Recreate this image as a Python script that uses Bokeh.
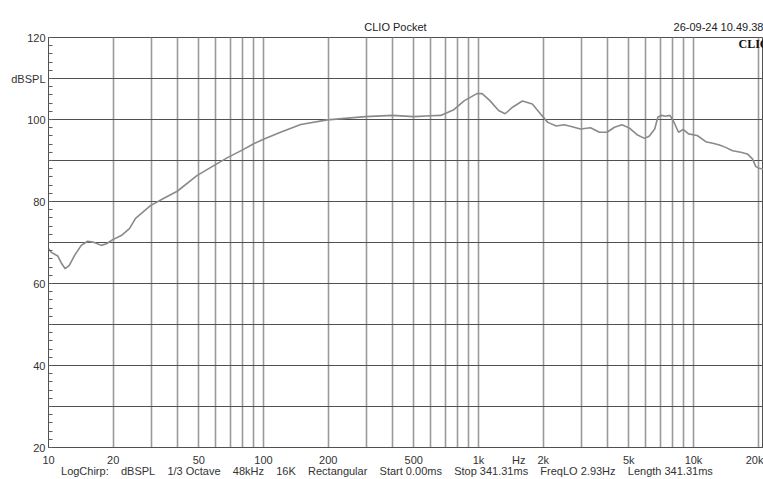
from bokeh.plotting import figure
from bokeh.models import Range1d, FixedTicker, Label, LogAxis, AllLabels
from bokeh.embed import file_html
from bokeh.resources import INLINE

# ---- data ----
freq_hz = [10, 10.3, 11.05, 11.53, 11.96, 12.5, 13.2, 14.2, 15.2, 16.1, 17.6, 18.6, 19.9,
           21.8, 23.8, 25.4, 29.8, 34.4, 39.7, 49, 59, 68, 80, 90, 100, 120, 149, 198,
           298, 397, 500, 600, 667, 768, 860, 983, 1040, 1130, 1240, 1330, 1440, 1600,
           1780, 1940, 2100, 2300, 2500, 2700, 2980, 3320, 3650, 3960, 4290, 4650, 5040,
           5460, 5920, 6220, 6600, 6830, 7100, 7400, 7770, 8100, 8520, 8950, 9480, 10400,
           11500, 12300, 13200, 14100, 15200, 16600, 17800, 18800, 19500, 20200, 21200]
spl_db = [68.5, 67.6, 66.7, 64.8, 63.6, 64.4, 66.8, 69.3, 70.3, 70.1, 69.3, 69.7, 70.7,
          71.7, 73.4, 75.9, 79.0, 80.8, 82.5, 86.3, 88.8, 90.7, 92.6, 94.1, 95.2, 96.9, 98.8, 99.9,
          100.7, 101.0, 100.7, 100.9, 101.0, 102.4, 104.6, 106.3, 106.3, 104.6, 102.2, 101.4, 103.0, 104.5,
          103.8, 101.4, 99.3, 98.4, 98.7, 98.3, 97.7, 98.0, 96.9, 96.9, 98.1, 98.7, 97.9,
          96.3, 95.4, 95.9, 97.7, 100.6, 101.0, 100.8, 101.0, 99.4, 96.9, 97.6, 96.5, 96.1,
          94.5, 94.2, 93.8, 93.2, 92.4, 92.0, 91.6, 90.4, 88.5, 88.1, 87.9]

x_tick_values = [10, 20, 50, 100, 200, 500, 1000, 1540, 2000, 5000, 10000, 20000]
x_tick_labels = ["10", "20", "50", "100", "200", "500", "1k", "Hz", "2k", "5k", "10k", "20k"]
x_grid_values = [20, 30, 40, 50, 60, 70, 80, 90, 100,
                 200, 300, 400, 500, 600, 700, 800, 900, 1000,
                 2000, 3000, 4000, 5000, 6000, 7000, 8000, 9000, 10000, 20000]
y_tick_values = [20, 40, 60, 80, 100, 110, 120]
y_tick_labels = ["20", "40", "60", "80", "100", "dBSPL", "120"]
y_grid_values = [30, 40, 50, 60, 70, 80, 90, 100, 110, 120]
y_minor_values = list(range(20, 121, 2))

title_text = "CLIO Pocket"
date_text = "26-09-24 10.49.38"
brand_text = "CLIO"
sp = "\u00a0\u00a0\u00a0\u00a0"
footer_text = sp.join(["LogChirp:", "dBSPL", "1/3 Octave", "48kHz", "16K", "Rectangular",
                       "Start 0.00ms", "Stop 341.31ms", "FreqLO 2.93Hz", "Length 341.31ms"])

# header / footer anchor frequencies (positions of the texts along the log axis)
header_ticks = [411, 13070]
header_labels = [title_text, date_text]
footer_ticks = [375]
footer_labels = [footer_text]

FONT = "Liberation Sans"
X_MIN = 10
X_MAX = 10 ** (1 + 715 / 215)

p = figure(width=763, height=479, x_axis_type="log",
           x_range=Range1d(X_MIN, X_MAX), y_range=Range1d(20, 120),
           output_backend="svg", toolbar_location=None,
           min_border_left=48, min_border_right=0, min_border_top=37, min_border_bottom=32,
           background_fill_color="white", border_fill_color="white")
p.outline_line_color = "#505050"
p.outline_line_width = 1

# grids
p.xgrid.ticker = FixedTicker(ticks=x_grid_values)
p.xgrid.grid_line_color = "#9a9a9a"
p.xgrid.grid_line_width = 1.6
p.ygrid.ticker = FixedTicker(ticks=y_grid_values)
p.ygrid.grid_line_color = "#505050"
p.ygrid.grid_line_width = 1

# x axis
xa = p.xaxis[0]
xa.ticker = FixedTicker(ticks=x_tick_values)
xa.major_label_overrides = {v: l for v, l in zip(x_tick_values, x_tick_labels)}
xa.major_label_policy = AllLabels()
xa.major_tick_in = 0
xa.major_tick_out = 0
xa.minor_tick_in = 0
xa.minor_tick_out = 0
xa.axis_line_color = "#505050"
xa.major_label_standoff = 6
xa.major_label_text_font = FONT
xa.major_label_text_font_size = "11px"
xa.major_label_text_color = "#333333"

# footer line as a second bottom axis
fa = LogAxis(ticker=FixedTicker(ticks=footer_ticks),
             major_label_overrides={v: l for v, l in zip(footer_ticks, footer_labels)},
             major_label_policy=AllLabels(),
             axis_line_color=None, major_tick_line_color=None, minor_tick_line_color=None,
             major_tick_in=0, major_tick_out=0, minor_tick_in=0, minor_tick_out=0,
             major_label_standoff=-4, major_label_text_font=FONT,
             major_label_text_font_size="11px", major_label_text_color="#333333")
p.add_layout(fa, "below")

# header line as a top axis
ha = LogAxis(ticker=FixedTicker(ticks=header_ticks),
             major_label_overrides={v: l for v, l in zip(header_ticks, header_labels)},
             major_label_policy=AllLabels(),
             axis_line_color=None, major_tick_line_color=None, minor_tick_line_color=None,
             major_tick_in=0, major_tick_out=0, minor_tick_in=0, minor_tick_out=0,
             major_label_standoff=5, major_label_text_font=FONT,
             major_label_text_font_size="11px", major_label_text_color="#222222")
p.add_layout(ha, "above")

# y axis
ya = p.yaxis[0]
ya.ticker = FixedTicker(ticks=y_tick_values, minor_ticks=y_minor_values)
ya.major_label_overrides = {v: l for v, l in zip(y_tick_values, y_tick_labels)}
ya.major_label_policy = AllLabels()
ya.major_tick_in = 0
ya.major_tick_out = 0
ya.minor_tick_in = 4
ya.minor_tick_out = 0
ya.minor_tick_line_color = "#606060"
ya.axis_line_color = "#505050"
ya.major_label_standoff = 3
ya.major_label_text_font = FONT
ya.major_label_text_font_size = "11px"
ya.major_label_text_color = "#333333"

# curve
p.line(freq_hz, spl_db, line_color="#8a8a8a", line_width=1.6)

# brand mark inside the frame
p.add_layout(Label(x=16190, y=118.5, text=brand_text, text_align="left", text_baseline="middle",
                   text_font="Liberation Serif", text_font_style="bold", text_font_size="12px",
                   text_color="#111111"))

open("out.html", "w").write(file_html(p, INLINE))
